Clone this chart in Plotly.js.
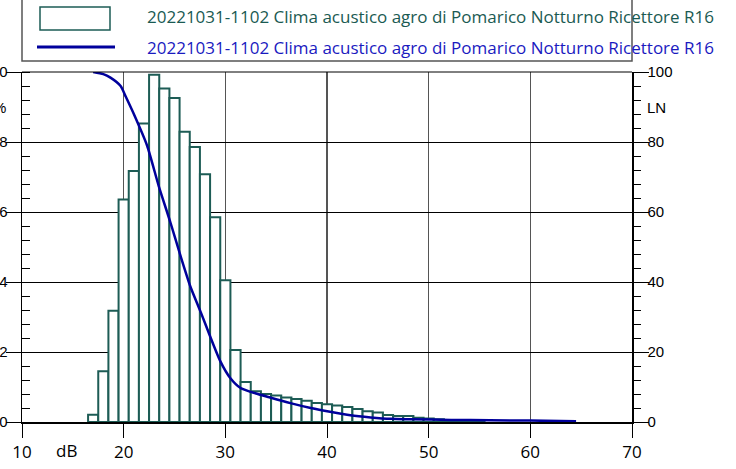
<!DOCTYPE html>
<html>
<head>
<meta charset="utf-8">
<script src="https://cdn.plot.ly/plotly-3.0.1.min.js"></script>
<style>html,body{margin:0;padding:0;background:#fff;}#chart{width:736px;height:469px;}</style>
</head>
<body>
<div id="chart"></div>
<script>
// Histogram: 1 dB classes (centre, % of time)
const binCentres = [17,18,19,20,21,22,23,24,25,26,27,28,29,30,31,32,33,34,35,36,37,38,39,40,41,42,43,44,45,46,47,48,49,50,51,52,53,54,55];
const binPercent = [0.21,1.45,3.18,6.36,7.17,8.53,9.92,9.53,9.26,8.29,7.86,7.08,5.85,4.05,2.06,1.14,0.88,0.80,0.76,0.70,0.66,0.61,0.54,0.51,0.47,0.43,0.37,0.31,0.27,0.20,0.17,0.17,0.12,0.10,0.08,0.06,0.05,0.04,0.03];
// Cumulative LN curve
const lnLevel = [17,18,18.7,19.7,20.2,21.0,22.3,23.45,24.6,25.6,26.55,27.55,28.5,29.5,30.5,31.5,32.5,34.4,36.4,38.4,40.3,42.3,44.3,46.3,48.2,52.2,56,60,64.5];
const lnValue = [100,99.4,98.4,96,93,88,79,67.4,57,47.4,38.8,31.6,24.5,17.4,12.5,9.7,8.6,7.0,5.4,4.0,2.9,1.9,1.3,0.9,0.8,0.6,0.5,0.4,0.2];
const xTicks = [10,20,30,40,50,60,70];
const pctTicks = [0,2,4,6,8,10];
const lnTicks = [0,20,40,60,80,100];
const seriesName = "20221031-1102 Clima acustico agro di Pomarico Notturno Ricettore R16";

const W = 736, H = 469, L = 22, R = 632, T = 72, B = 422;
const px = v => (v - L) / (R - L);
const py = v => (B - v) / (B - T);

const teal = '#1d5c55';
const blue = '#00009c';

const traces = [
  {type:'bar', x: binCentres, y: binPercent, width: 1, yaxis:'y',
   marker:{color:'#ffffff', line:{color: teal, width:2}}, hoverinfo:'skip', name: seriesName},
  {type:'scatter', mode:'lines', x: lnLevel, y: lnValue, yaxis:'y2',
   line:{color: blue, width:2.5, shape:'spline', smoothing:0.6}, name: seriesName}
];

const armFont = {family:'Liberation Sans, Arial', size:15, color:'#000'};
const calFont = {family:'Open Sans', size:17, color:'#000'};

const layout = {
  width: W, height: H,
  margin:{l:L, r:W-R, t:T, b:H-B, pad:0},
  paper_bgcolor:'#fff', plot_bgcolor:'#fff',
  showlegend:false, bargap:0,
  xaxis:{range:[10,70], tickvals:xTicks, ticktext:xTicks.map(String),
    ticks:'outside', ticklen:14, tickcolor:'#000', tickwidth:1,
    showgrid:true, gridcolor:'#555', gridwidth:1.5,
    showline:true, linecolor:'#000', linewidth:2, zeroline:false,
    tickfont:calFont, fixedrange:true},
  yaxis:{range:[0,10], tickvals:pctTicks, ticktext:pctTicks.map(String),
    ticks:'outside', ticklen:15, tickcolor:'#000', tickwidth:1, ticklabelstandoff:-5,
    minor:{dtick:0.4, ticks:'inside', ticklen:8, tickcolor:'#000', showgrid:false},
    showgrid:true, gridcolor:'#000', gridwidth:1,
    showline:true, linecolor:'#000', linewidth:1.5, zeroline:false,
    tickfont:armFont, fixedrange:true},
  yaxis2:{range:[0,100], overlaying:'y', side:'right', tickvals:lnTicks, ticktext:lnTicks.map(String),
    ticks:'outside', ticklen:15, tickcolor:'#000', tickwidth:1, ticklabelstandoff:-4,
    minor:{dtick:4, ticks:'outside', ticklen:7, tickcolor:'#000', showgrid:false},
    showgrid:false, showline:true, linecolor:'#000', linewidth:1.5, zeroline:false,
    tickfont:armFont, fixedrange:true},
  shapes:[
    {type:'line', xref:'paper', yref:'paper', x0:0, x1:1, y0:1, y1:1, line:{color:'#000', width:1}},
    {type:'rect', xref:'paper', yref:'paper', x0:px(22), x1:px(632), y0:py(61), y1:py(-3),
     line:{color:'#555', width:1.5}, fillcolor:'rgba(0,0,0,0)'},
    {type:'rect', xref:'paper', yref:'paper', x0:px(40), x1:px(110), y0:py(30), y1:py(7),
     line:{color:teal, width:1.5}, fillcolor:'#fff'},
    {type:'line', xref:'paper', yref:'paper', x0:px(37), x1:px(115), y0:py(47), y1:py(47),
     line:{color:blue, width:3}}
  ],
  annotations:[
    {text:seriesName, xref:'paper', yref:'paper', x:px(145), y:py(16), xanchor:'left', yanchor:'middle',
     showarrow:false, font:{family:'Open Sans', size:17, color:'#1a5a52'}},
    {text:seriesName, xref:'paper', yref:'paper', x:px(145), y:py(47), xanchor:'left', yanchor:'middle',
     showarrow:false, font:{family:'Open Sans', size:17, color:'#1a1abf'}},
    {text:'dB', xref:'x', yref:'paper', x:14.4, y:py(450), xanchor:'center', yanchor:'middle',
     showarrow:false, font:calFont},
    {text:'%', xref:'paper', yref:'y2', x:px(8), y:90, xanchor:'right', yanchor:'middle',
     showarrow:false, font:armFont},
    {text:'LN', xref:'paper', yref:'y2', x:px(645), y:90, xanchor:'left', yanchor:'middle',
     showarrow:false, font:armFont}
  ]
};

Plotly.newPlot('chart', traces, layout, {staticPlot:true, displayModeBar:false});
</script>
</body>
</html>
